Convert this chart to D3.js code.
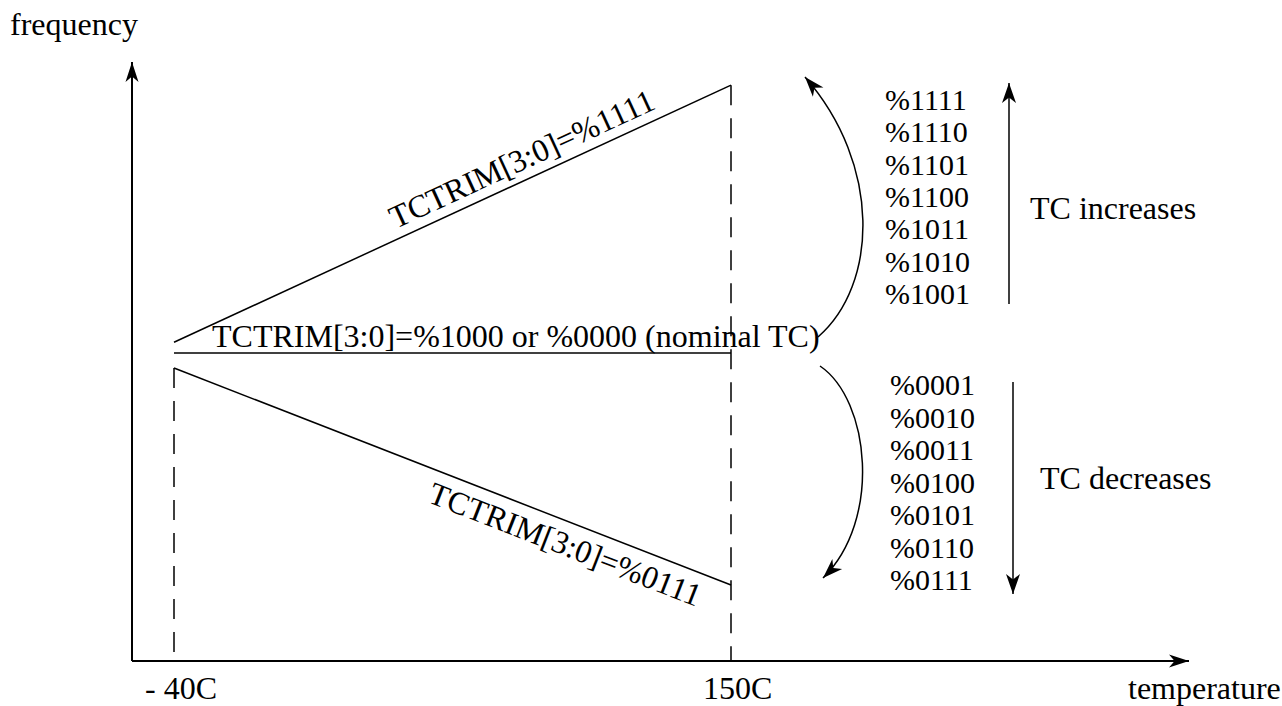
<!DOCTYPE html>
<html>
<head>
<meta charset="utf-8">
<script src="https://cdn.jsdelivr.net/npm/d3@7"></script>
<style>
  body { margin: 0; background: #fff; }
  svg text { font-family: "Liberation Serif", "Times New Roman", serif; fill: #000; }
</style>
</head>
<body>
<script>
const width = 1282;
const height = 706;

// temperature end points of the sweep
const temps = [-40, 150];
const tempLabels = ["- 40C", "150C"];

// frequency (arbitrary units, 0..100 over the axis) for each trim line
const lineNames = ["%1111", "nominal", "%0111"];
const freqHigh = [53.3, 96.3];
const freqNominal = [51.5, 51.5];
const freqLow = [49.0, 12.7];

// codes listed on the right
const upCodes = ["%1111", "%1110", "%1101", "%1100", "%1011", "%1010", "%1001"];
const downCodes = ["%0001", "%0010", "%0011", "%0100", "%0101", "%0110", "%0111"];

const x = d3.scaleLinear().domain(temps).range([174, 731]);
const y = d3.scaleLinear().domain([0, 100]).range([661, 63]);

const svg = d3.select("body").append("svg")
  .attr("width", width)
  .attr("height", height);

const defs = svg.append("defs");
function arrowMarker(id, len, half) {
  defs.append("marker")
    .attr("id", id)
    .attr("markerUnits", "userSpaceOnUse")
    .attr("viewBox", `${-len - 1} ${-half - 1} ${len + 2} ${2 * half + 2}`)
    .attr("refX", 0)
    .attr("refY", 0)
    .attr("markerWidth", len + 2)
    .attr("markerHeight", 2 * half + 2)
    .attr("orient", "auto")
    .append("path")
      .attr("d", `M0,0L${-len},${-half}L${-len * 0.72},0L${-len},${half}Z`)
      .attr("fill", "#000");
}
arrowMarker("axisArrow", 20, 6.5);
arrowMarker("curveArrow", 20, 7);

// axes
svg.append("line")
  .attr("x1", 132).attr("y1", y(0))
  .attr("x2", 132).attr("y2", 62)
  .attr("stroke", "#000").attr("stroke-width", 2)
  .attr("marker-end", "url(#axisArrow)");
svg.append("line")
  .attr("x1", 132).attr("y1", y(0))
  .attr("x2", 1189).attr("y2", y(0))
  .attr("stroke", "#000").attr("stroke-width", 2)
  .attr("marker-end", "url(#axisArrow)");

// dashed guides at the two temperatures
const guideTops = [freqLow[0], freqHigh[1]];
svg.selectAll(".guide")
  .data(temps)
  .enter().append("line")
    .attr("class", "guide")
    .attr("x1", d => x(d)).attr("x2", d => x(d))
    .attr("y1", (d, i) => y(guideTops[i]))
    .attr("y2", y(0))
    .attr("stroke", "#000")
    .attr("stroke-width", 1.5)
    .attr("stroke-dasharray", "20,13");

// trim lines
const series = [freqHigh, freqNominal, freqLow];
const line = d3.line().x((d, i) => x(temps[i])).y(d => y(d));
svg.selectAll(".trim")
  .data(series)
  .enter().append("path")
    .attr("class", "trim")
    .attr("d", d => line(d))
    .attr("fill", "none")
    .attr("stroke", "#000")
    .attr("stroke-width", 1.5);

// labels on the sloped lines
function slopeLabel(vals, t, offset, txt) {
  const x0 = x(temps[0]), y0 = y(vals[0]);
  const x1 = x(temps[1]), y1 = y(vals[1]);
  const ang = Math.atan2(y1 - y0, x1 - x0) * 180 / Math.PI;
  const px = x0 + (x1 - x0) * t;
  const py = y0 + (y1 - y0) * t;
  svg.append("text")
    .attr("transform", `translate(${px},${py}) rotate(${ang}) translate(0,${offset})`)
    .style("font-size", "32px")
    .text(txt);
}
slopeLabel(freqHigh, 0.405, -10, "TCTRIM[3:0]=%1111");
slopeLabel(freqLow, 0.475, 33, "TCTRIM[3:0]=%0111");

svg.append("text")
  .attr("x", 212).attr("y", y(freqNominal[0]) - 6)
  .style("font-size", "32px")
  .text("TCTRIM[3:0]=%1000 or %0000 (nominal TC)");

// curved arrows
svg.append("path")
  .attr("d", "M818,337C878,285 882,165 805,77")
  .attr("fill", "none").attr("stroke", "#000").attr("stroke-width", 1.5)
  .attr("marker-end", "url(#curveArrow)");
svg.append("path")
  .attr("d", "M820,366C870,400 882,520 823,578")
  .attr("fill", "none").attr("stroke", "#000").attr("stroke-width", 1.5)
  .attr("marker-end", "url(#curveArrow)");

// code lists
const yUp = d3.scalePoint().domain(upCodes).range([100, 294]);
const yDown = d3.scalePoint().domain(downCodes).range([385, 580]);
svg.selectAll(".up")
  .data(upCodes)
  .enter().append("text")
    .attr("class", "up")
    .attr("x", 885).attr("y", d => yUp(d) + 10)
    .style("font-size", "30px")
    .text(d => d);
svg.selectAll(".down")
  .data(downCodes)
  .enter().append("text")
    .attr("class", "down")
    .attr("x", 890).attr("y", d => yDown(d) + 10)
    .style("font-size", "30px")
    .text(d => d);

// straight arrows beside the lists
svg.append("line")
  .attr("x1", 1009).attr("y1", 304).attr("x2", 1009).attr("y2", 83)
  .attr("stroke", "#000").attr("stroke-width", 1.5)
  .attr("marker-end", "url(#curveArrow)");
svg.append("line")
  .attr("x1", 1013).attr("y1", 382).attr("x2", 1013).attr("y2", 594)
  .attr("stroke", "#000").attr("stroke-width", 1.5)
  .attr("marker-end", "url(#curveArrow)");

svg.append("text").attr("x", 1030).attr("y", 219)
  .style("font-size", "32px").text("TC increases");
svg.append("text").attr("x", 1040).attr("y", 489)
  .style("font-size", "32px").text("TC decreases");

// axis texts
svg.append("text").attr("x", 10).attr("y", 35)
  .style("font-size", "32px").text("frequency");
svg.append("text").attr("x", 1128).attr("y", 699)
  .style("font-size", "32px").text("temperature");
svg.selectAll(".tlab")
  .data(temps)
  .enter().append("text")
    .attr("class", "tlab")
    .attr("x", (d, i) => i === 0 ? x(d) - 29 : x(d) - 28)
    .attr("y", 699)
    .style("font-size", "32px")
    .text((d, i) => tempLabels[i]);
</script>
</body>
</html>
